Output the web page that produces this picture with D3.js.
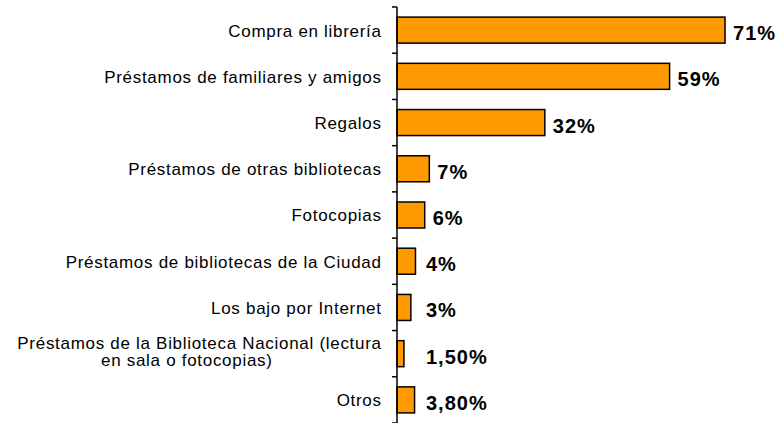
<!DOCTYPE html>
<html>
<head>
<meta charset="utf-8">
<script src="https://cdn.jsdelivr.net/npm/d3@7"></script>
<style>
  html, body { margin: 0; padding: 0; background: #fff; }
  svg { display: block; }
</style>
</head>
<body>
<svg id="chart" width="783" height="423"></svg>
<script>
// Sources from which books are obtained (percentage of respondents)
const categories = [
  "Compra en librería",
  "Préstamos de familiares y amigos",
  "Regalos",
  "Préstamos de otras bibliotecas",
  "Fotocopias",
  "Préstamos de bibliotecas de la Ciudad",
  "Los bajo por Internet",
  "Préstamos de la Biblioteca Nacional (lectura|en sala o fotocopias)",
  "Otros"
];
const values = [71, 59, 32, 7, 6, 4, 3, 1.5, 3.8];
const valueLabels = ["71%", "59%", "32%", "7%", "6%", "4%", "3%", "1,50%", "3,80%"];

const svg = d3.select("#chart");
const axisX = 397;
const labelRight = 381;

const y = d3.scaleBand()
  .domain(categories)
  .range([7, 423])
  .paddingInner(0.437)
  .paddingOuter(0.2185);

const x = d3.scaleLinear()
  .domain([0, 100])
  .range([axisX, axisX + 462]);

// Bars
svg.append("g")
  .selectAll("rect")
  .data(categories)
  .join("rect")
  .attr("x", x(0))
  .attr("y", d => y(d))
  .attr("width", (d, i) => x(values[i]) - x(0))
  .attr("height", y.bandwidth())
  .attr("fill", "#FF9900")
  .attr("stroke", "#000")
  .attr("stroke-width", 1.5);

// Vertical axis with ticks at the band boundaries
const gap = (y.step() - y.bandwidth()) / 2;
const boundaries = categories.map(c => y(c) - gap).concat([y.range()[1]]);
const axis = svg.append("g").attr("stroke", "#000").attr("stroke-width", 1.5);
axis.append("line")
  .attr("x1", axisX).attr("x2", axisX)
  .attr("y1", y.range()[0]).attr("y2", y.range()[1]);
axis.selectAll("line.tick")
  .data(boundaries)
  .join("line")
  .attr("class", "tick")
  .attr("x1", axisX - 5).attr("x2", axisX)
  .attr("y1", d => d).attr("y2", d => d);

// Category labels (a "|" marks a line break)
const catG = svg.append("g")
  .attr("font-family", "'Liberation Sans', Arial, sans-serif")
  .attr("font-size", 17)
  .attr("letter-spacing", 0.7)
  .attr("fill", "#000");
categories.forEach(c => {
  const lines = c.split("|");
  const cy = y(c) + y.bandwidth() / 2;
  if (lines.length === 1) {
    catG.append("text")
      .attr("x", labelRight + 0.7)
      .attr("y", cy + 0.5)
      .attr("dy", "0.35em")
      .attr("text-anchor", "end")
      .text(c);
  } else {
    const first = catG.append("text")
      .attr("x", labelRight + 0.7)
      .attr("y", cy - 11)
      .attr("dy", "0.35em")
      .attr("text-anchor", "end")
      .text(lines[0]);
    const w = first.node().getComputedTextLength();
    catG.append("text")
      .attr("x", labelRight - w / 2 - 12)
      .attr("y", cy + 6.5)
      .attr("dy", "0.35em")
      .attr("text-anchor", "middle")
      .text(lines[1]);
  }
});

// Value labels
svg.append("g")
  .attr("font-family", "'Liberation Sans', Arial, sans-serif")
  .attr("font-size", 20)
  .attr("font-weight", "bold")
  .attr("letter-spacing", 1)
  .attr("fill", "#000")
  .selectAll("text")
  .data(categories)
  .join("text")
  .attr("x", (d, i) => Math.max(x(values[i]) + 8, axisX + 29))
  .attr("y", d => y(d) + y.bandwidth() / 2 + 3)
  .attr("dy", "0.35em")
  .text((d, i) => valueLabels[i]);
</script>
</body>
</html>
